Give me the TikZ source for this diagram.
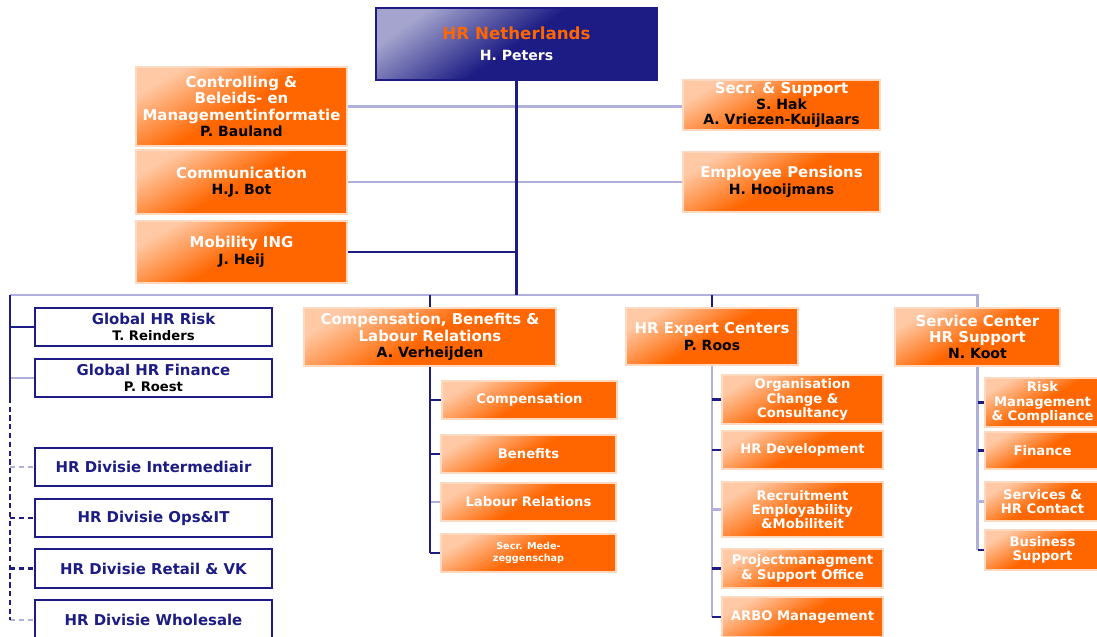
\documentclass[tikz,border=0pt]{standalone}
\usepackage{fontspec}
\setmainfont{DejaVu Sans}
\usepackage{xcolor}
\usepackage{tikz}
\usetikzlibrary{positioning}
\definecolor{ingnavy}{RGB}{28, 28, 132}
\definecolor{ingorange}{RGB}{255, 102, 0}
\definecolor{lavender}{RGB}{176, 176, 220}
\newcommand{\persname}[2][8]{{\color{black}\fontsize{#1}{9.5}\selectfont #2}}

\begin{document}
\begin{tikzpicture}[x=0.02cm, y=-0.02cm,
    head/.style={rectangle, draw=ingnavy, line width=1pt, top color=ingnavy!40!white, bottom color=ingnavy, middle color=ingnavy, shading angle=35, align=center, inner sep=1pt, font=\bfseries},
    unit/.style={rectangle, draw=ingorange!25!white, line width=0.8pt, top color=ingorange!35!white, bottom color=ingorange, middle color=ingorange, shading angle=30, text=white, align=center, inner sep=1pt, font=\bfseries\fontsize{8.5}{9.3}\selectfont},
    sub/.style={unit, font=\bfseries\fontsize{7.5}{8.2}\selectfont},
    staff/.style={rectangle, draw=ingnavy, line width=0.9pt, fill=white, text=ingnavy, align=center, inner sep=1pt, font=\bfseries\fontsize{8.5}{9.3}\selectfont},
    link/.style={draw=ingnavy, line width=1.4pt},
    faint/.style={draw=lavender, line width=1.4pt}
]
    \useasboundingbox (0,0) rectangle (1097,636);
    \clip (0,0) rectangle (1097,636);
    \fill[white] (0,0) rectangle (1097,636);

    % top of the chart
    \node[head, minimum width=5.62cm, minimum height=1.44cm] (hrnl) at (516.5,44) {
        {\color{ingorange}\fontsize{9.5}{10.5}\selectfont HR Netherlands}\\
        {\color{white}\fontsize{8}{10.5}\selectfont H. Peters}
    };

    % staff departments
    \node[unit, minimum width=4.22cm, minimum height=1.58cm] (ctrl) at (241.5,106.5) {
        Controlling \&\\
        Beleids- en\\
        Managementinformatie\\
        \persname{P. Bauland}
    };
    \node[unit, minimum width=4.22cm, minimum height=1.28cm] (comm) at (241.5,182) {
        Communication\\
        \persname{H.J. Bot}
    };
    \node[unit, minimum width=4.22cm, minimum height=1.24cm] (mob) at (241.5,252) {
        Mobility ING\\
        \persname{J. Heij}
    };
    \node[unit, minimum width=3.94cm, minimum height=1cm, font=\bfseries\fontsize{8.5}{8.8}\selectfont] (secr) at (781.5,105) {
        Secr. \& Support\\
        \persname{S. Hak}\\
        \persname{A. Vriezen-Kuijlaars}
    };
    \node[unit, minimum width=3.94cm, minimum height=1.2cm] (pens) at (781.5,182) {
        Employee Pensions\\
        \persname{H. Hooijmans}
    };

    % global and divisional HR
    \node[staff, minimum width=4.74cm, minimum height=0.76cm] (risk) at (153.5,327) {
        Global HR Risk\\
        \persname[7.5]{T. Reinders}
    };
    \node[staff, minimum width=4.74cm, minimum height=0.76cm] (fin) at (153.5,378) {
        Global HR Finance\\
        \persname[7.5]{P. Roest}
    };
    \node[staff, minimum width=4.74cm, minimum height=0.76cm] (inter) at (153.5,467) {HR Divisie Intermediair};
    \node[staff, minimum width=4.74cm, minimum height=0.76cm] (ops) at (153.5,518) {HR Divisie Ops\&IT};
    \node[staff, minimum width=4.74cm, minimum height=0.78cm] (retail) at (153.5,568.5) {HR Divisie Retail \& VK};
    \node[staff, minimum width=4.74cm, minimum height=0.8cm] (whs) at (153.5,620) {HR Divisie Wholesale};

    % line departments
    \node[unit, minimum width=5.04cm, minimum height=1.16cm] (cblr) at (430,337) {
        Compensation, Benefits \&\\
        Labour Relations\\
        \persname{A. Verheijden}
    };
    \node[unit, minimum width=3.44cm, minimum height=1.14cm] (hrec) at (712,336.5) {
        HR Expert Centers\\
        \persname{P. Roos}
    };
    \node[unit, minimum width=3.3cm, minimum height=1.16cm] (schr) at (977.5,337) {
        Service Center\\
        HR Support\\
        \persname{N. Koot}
    };

    % under compensation, benefits & labour relations
    \node[sub, minimum width=3.5cm, minimum height=0.76cm] (comp) at (529.5,400) {Compensation};
    \node[sub, minimum width=3.5cm, minimum height=0.76cm] (ben) at (528.5,454) {Benefits};
    \node[sub, minimum width=3.5cm, minimum height=0.76cm] (lab) at (528.5,502) {Labour Relations};
    \node[sub, minimum width=3.5cm, minimum height=0.76cm, font=\bfseries\fontsize{5.5}{7}\selectfont] (secm) at (528.5,553) {
        Secr. Mede-\\
        zeggenschap
    };

    % under hr expert centers
    \node[sub, minimum width=3.22cm, minimum height=0.98cm] (org) at (802.5,399.5) {
        Organisation\\
        Change \&\\
        Consultancy
    };
    \node[sub, minimum width=3.22cm, minimum height=0.76cm] (hrd) at (802.5,450) {HR Development};
    \node[sub, minimum width=3.22cm, minimum height=1.1cm] (recr) at (802.5,509.5) {
        Recruitment\\
        Employability\\
        \&Mobiliteit
    };
    \node[sub, minimum width=3.22cm, minimum height=0.78cm] (proj) at (802.5,568.5) {
        Projectmanagment\\
        \& Support Office
    };
    \node[sub, minimum width=3.22cm, minimum height=0.8cm] (arbo) at (802.5,617) {ARBO Management};

    % under service center
    \node[sub, minimum width=2.3cm, minimum height=0.98cm] (rmc) at (1042.5,402.5) {
        Risk\\
        Management\\
        \& Compliance
    };
    \node[sub, minimum width=2.3cm, minimum height=0.74cm] (scfin) at (1042.5,450.5) {Finance};
    \node[sub, minimum width=2.3cm, minimum height=0.78cm] (serv) at (1042.5,501.5) {
        Services \&\\
        HR Contact
    };
    \node[sub, minimum width=2.3cm, minimum height=0.8cm] (bsup) at (1042.5,550) {
        Business\\
        Support
    };

    % connectors
    \coordinate (busL) at (10,295);
    \draw[faint] (ctrl.east) -- (ctrl.east -| secr.west);
    \draw[faint] (comm.east) -- (comm.east -| pens.west);
    \draw[link] (mob.east) -- (mob.east -| hrnl.south);
    \draw[faint] (busL) -- (busL -| schr.north) -- (schr.north);
    \draw[link] (hrnl.south) -- (hrnl.south |- busL);
    \draw[link] (cblr.north |- busL) -- (cblr.north);
    \draw[link] (hrec.north |- busL) -- (hrec.north);

    \draw[faint] (busL |- fin.west) -- (fin.west);
    \draw[faint, dashed, dash pattern=on 3pt off 2pt] (busL |- inter.west) -- (inter.west);
    \draw[faint, dashed, dash pattern=on 3pt off 2pt] (busL |- whs.west) -- (whs.west);
    \draw[link, dashed, dash pattern=on 3pt off 2pt] (busL |- ops.west) -- (ops.west);
    \draw[link, dashed, dash pattern=on 3pt off 2pt] (busL |- retail.west) -- (retail.west);
    \draw[link] (busL |- risk.west) -- (risk.west);
    \draw[link] (busL) -- (busL |- fin.south);
    \draw[link, dashed, dash pattern=on 3pt off 2pt] (busL |- fin.south) -- (busL |- whs.west);

    \draw[faint] (cblr.south |- lab.west) -- (lab.west);
    \foreach \n in {comp, ben, secm}
        \draw[link] (cblr.south |- \n.west) -- (\n.west);
    \draw[link] (cblr.south) -- (cblr.south |- secm.west);

    \draw[faint] (hrec.south) -- (hrec.south |- arbo.west);
    \draw[faint] (hrec.south |- recr.west) -- (recr.west);
    \foreach \n in {org, hrd, proj, arbo}
        \draw[link] (hrec.south |- \n.west) -- (\n.west);

    \draw[faint] (schr.south) -- (schr.south |- bsup.west);
    \draw[faint] (schr.south |- serv.west) -- (serv.west);
    \foreach \n in {rmc, scfin, bsup}
        \draw[link] (schr.south |- \n.west) -- (\n.west);
\end{tikzpicture}
\end{document}
